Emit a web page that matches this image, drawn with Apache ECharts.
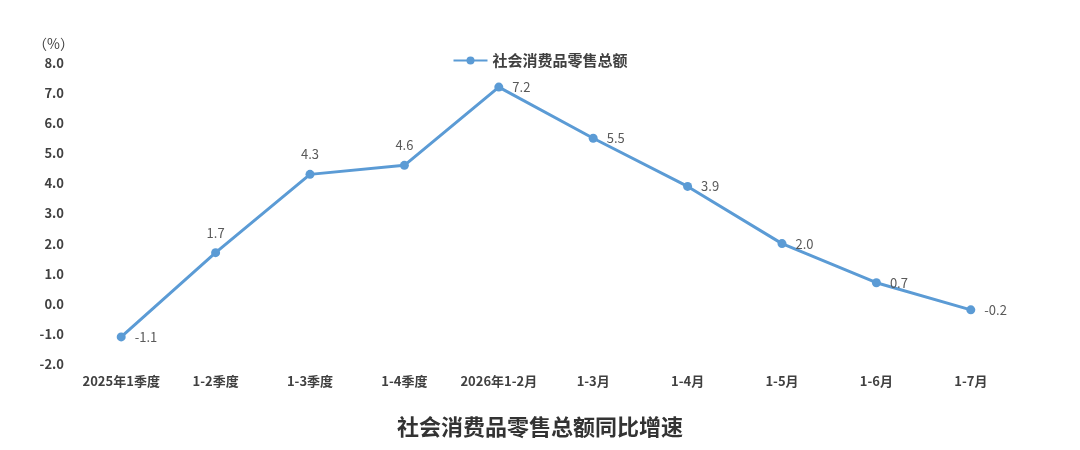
<!DOCTYPE html>
<html>
<head>
<meta charset="utf-8">
<script src="https://cdn.jsdelivr.net/npm/echarts@6/dist/echarts.min.js"></script>
<style>
  html, body { margin: 0; padding: 0; background: #fff; }
  #chart { width: 1080px; height: 450px; }
</style>
</head>
<body>
<div id="chart"></div>
<script>
var categories = ['2025年1季度', '1-2季度', '1-3季度', '1-4季度', '2026年1-2月', '1-3月', '1-4月', '1-5月', '1-6月', '1-7月'];
var growth = [-1.1, 1.7, 4.3, 4.6, 7.2, 5.5, 3.9, 2.0, 0.7, -0.2];
var labelPos = ['right', 'top', 'top', 'top', 'right', 'right', 'right', 'right', 'right', 'right'];

var chart = echarts.init(document.getElementById('chart'));

var font = '"Noto Sans CJK SC", "Noto Sans", sans-serif';

var option = {
    title: {
        text: '社会消费品零售总额同比增速',
        left: 'center',
        top: 411,
        textStyle: { fontSize: 22, fontWeight: 'bold', color: '#333333', fontFamily: font }
    },
    legend: {
        top: 48,
        left: 'center',
        itemWidth: 34,
        itemHeight: 10,
        itemGap: 6,
        textStyle: { fontSize: 15, fontWeight: 'bold', color: '#404040', fontFamily: font },
        data: ['社会消费品零售总额']
    },
    grid: { left: 74, right: 62, top: 63, bottom: 86 },
    xAxis: {
        type: 'category',
        data: categories,
        axisLine: { show: false },
        axisTick: { show: false },
        axisLabel: { interval: 0, fontSize: 13, fontWeight: 'bold', color: '#404040', margin: 11, fontFamily: font }
    },
    yAxis: {
        type: 'value',
        min: -2,
        max: 8,
        interval: 1,
        name: '（%）',
        nameGap: 12,
        nameTextStyle: { fontSize: 14, color: '#404040', align: 'right', padding: [0, 0, 0, 0], fontFamily: font },
        splitLine: { show: false },
        axisLine: { show: false },
        axisTick: { show: false },
        axisLabel: {
            fontSize: 13, fontWeight: 'bold', color: '#404040', margin: 10, fontFamily: font,
            formatter: function (v) { return v.toFixed(1); }
        }
    },
    series: [{
        name: '社会消费品零售总额',
        type: 'line',
        data: growth.map(function (v, i) {
            return { value: v, label: { position: labelPos[i] } };
        }),
        symbol: 'circle',
        symbolSize: 9,
        lineStyle: { color: '#5B9BD5', width: 3 },
        itemStyle: { color: '#5B9BD5' },
        label: {
            show: true,
            fontSize: 13,
            color: '#595959',
            distance: 9,
            fontFamily: font,
            formatter: function (p) { return p.value.toFixed(1); }
        }
    }]
};

chart.setOption(option);
</script>
</body>
</html>
